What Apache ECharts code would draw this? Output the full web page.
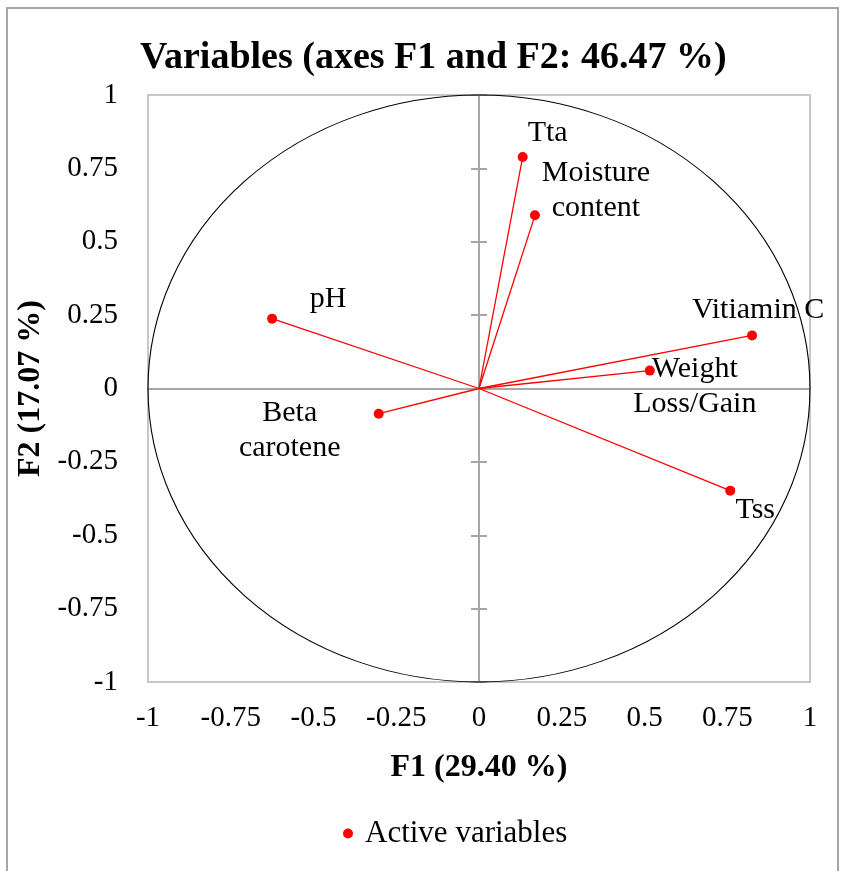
<!DOCTYPE html>
<html>
<head>
<meta charset="utf-8">
<script src="https://cdn.jsdelivr.net/npm/echarts@6/dist/echarts.min.js"></script>
<style>
  html, body { margin: 0; padding: 0; background: #fff; }
  #chart { width: 841px; height: 871px; }
</style>
</head>
<body>
<div id="chart"></div>
<script>
// ---- data ----
const variableNames = ['Tta', 'Moisture content', 'pH', 'Vitiamin C', 'Weight Loss/Gain', 'Tss', 'Beta carotene'];
const f1Values = [0.132, 0.169, -0.625, 0.825, 0.516, 0.759, -0.303];
const f2Values = [0.789, 0.590, 0.238, 0.181, 0.061, -0.348, -0.086];
const axisTicks = [-1, -0.75, -0.5, -0.25, 0, 0.25, 0.5, 0.75, 1];
const circleRadius = 1;
const origin = [0, 0];

// ---- label layout (styling only) ----
const labelText = {
  'Tta': 'Tta',
  'Moisture content': 'Moisture\ncontent',
  'pH': 'pH',
  'Vitiamin C': 'Vitiamin C',
  'Weight Loss/Gain': 'Weight\nLoss/Gain',
  'Tss': 'Tss',
  'Beta carotene': 'Beta\ncarotene'
};
const labelOffset = {
  'Tta': [25, -24],
  'Moisture content': [61, -25],
  'pH': [56, -20],
  'Vitiamin C': [6, -25],
  'Weight Loss/Gain': [45, 16],
  'Tss': [25, 19],
  'Beta carotene': [-89, 17]
};

const FONT = '"Liberation Serif", "Times New Roman", serif';
const AXIS_GRAY = '#a6a6a6';

const points = variableNames.map((n, i) => ({
  name: n,
  value: [f1Values[i], f2Values[i]],
  label: { offset: labelOffset[n] }
}));

const chart = echarts.init(document.getElementById('chart'));

const baseValueAxis = {
  type: 'value',
  min: axisTicks[0],
  max: axisTicks[axisTicks.length - 1],
  interval: axisTicks[1] - axisTicks[0],
  splitLine: { show: false }
};

function zeroAxis(inside, showLine, showTicks) {
  return Object.assign({}, baseValueAxis, {
    axisLine: { show: showLine, onZero: true, onZeroAxisIndex: 0, lineStyle: { color: AXIS_GRAY, width: 2 } },
    axisTick: { show: showTicks, inside: inside, length: 8, lineStyle: { color: AXIS_GRAY, width: 2 } },
    axisLabel: { show: false }
  });
}

const option = {
  animation: false,
  backgroundColor: '#fff',
  title: {
    text: 'Variables (axes F1 and F2: 46.47 %)',
    left: 135,
    top: 34,
    textStyle: { fontFamily: FONT, fontSize: 38, fontWeight: 'bold', color: '#000' }
  },
  legend: {
    data: ['Active variables'],
    left: 338,
    top: 813,
    itemWidth: 10,
    itemHeight: 10,
    icon: 'circle',
    itemStyle: { opacity: 1 },
    textStyle: { fontFamily: FONT, fontSize: 31, color: '#000', padding: [0, 0, 0, 7] }
  },
  graphic: [{
    type: 'rect',
    shape: { x: 7, y: 8, width: 831, height: 900 },
    style: { fill: 'none', stroke: '#a6a6a6', lineWidth: 2 },
    silent: true, z: -10
  }],
  grid: {
    left: 148, top: 95, right: 31, bottom: 189,
    show: true, borderColor: '#c8c8c8', borderWidth: 2, backgroundColor: 'transparent'
  },
  xAxis: [
    Object.assign({}, baseValueAxis, {
      position: 'bottom',
      axisLine: { show: false, onZero: false },
      axisTick: { show: false },
      axisLabel: { show: true, margin: 22, fontFamily: FONT, fontSize: 29, color: '#000' },
      name: 'F1 (29.40 %)',
      nameLocation: 'middle',
      nameGap: 70,
      nameTextStyle: { fontFamily: FONT, fontSize: 32, fontWeight: 'bold', color: '#000' }
    }),
    Object.assign(zeroAxis(true, true, false), { position: 'bottom' })
  ],
  yAxis: [
    Object.assign({}, baseValueAxis, {
      position: 'left',
      axisLine: { show: false, onZero: false },
      axisTick: { show: false },
      axisLabel: { show: true, margin: 30, fontFamily: FONT, fontSize: 29, color: '#000' },
      name: 'F2 (17.07 %)',
      nameLocation: 'middle',
      nameGap: 94,
      nameTextStyle: { fontFamily: FONT, fontSize: 32, fontWeight: 'bold', color: '#000' }
    }),
    Object.assign(zeroAxis(true, true, true), { position: 'left' }),
    Object.assign(zeroAxis(false, false, true), { position: 'left' })
  ],
  series: [
    {
      type: 'custom',
      name: 'circle',
      xAxisIndex: 0, yAxisIndex: 0,
      silent: true,
      z: 3,
      data: [origin],
      renderItem: function (params, api) {
        const c = api.coord(origin);
        const s = api.size([circleRadius, circleRadius]);
        return {
          type: 'circle',
          shape: { cx: 0, cy: 0, r: s[0] },
          x: c[0], y: c[1],
          scaleY: s[1] / s[0],
          style: { fill: 'none', stroke: '#000', lineWidth: 1.1, strokeNoScale: true }
        };
      }
    },
    {
      type: 'custom',
      name: 'vectors',
      xAxisIndex: 0, yAxisIndex: 0,
      silent: true,
      z: 4,
      data: variableNames.map((n, i) => [f1Values[i], f2Values[i]]),
      renderItem: function (params, api) {
        const o = api.coord(origin);
        const p = api.coord([api.value(0), api.value(1)]);
        return {
          type: 'line',
          shape: { x1: o[0], y1: o[1], x2: p[0], y2: p[1] },
          style: { stroke: '#ff0000', lineWidth: 1.3 }
        };
      }
    },
    {
      type: 'scatter',
      name: 'Active variables',
      xAxisIndex: 0, yAxisIndex: 0,
      z: 5,
      symbol: 'circle',
      symbolSize: 10,
      itemStyle: { color: '#ff0000', opacity: 1 },
      data: points,
      label: {
        show: true,
        position: 'inside',
        align: 'center',
        verticalAlign: 'middle',
        fontFamily: FONT,
        fontSize: 30,
        lineHeight: 35,
        color: '#000',
        formatter: p => labelText[p.name]
      }
    }
  ]
};

chart.setOption(option);
</script>
</body>
</html>
